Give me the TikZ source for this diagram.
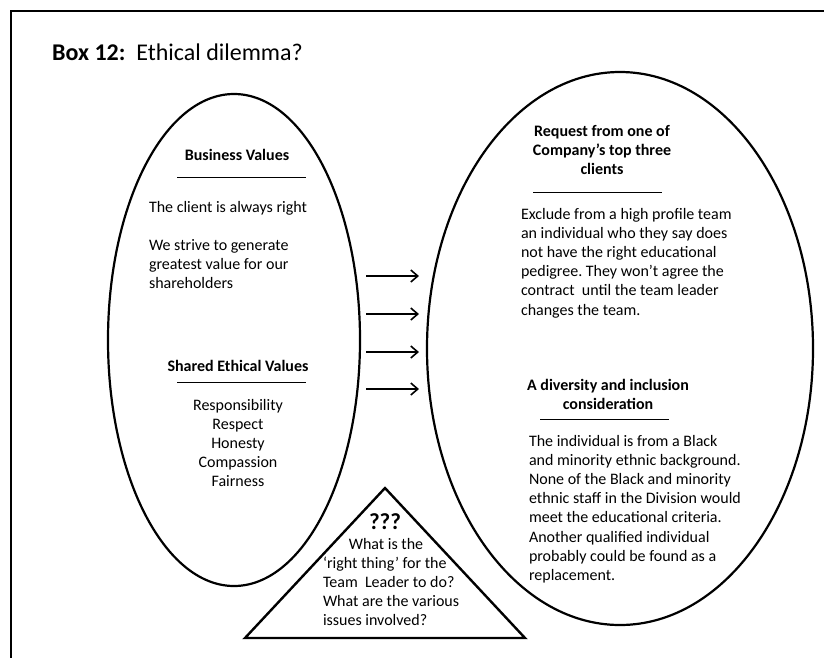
\documentclass[tikz,border=0pt]{standalone}
\usepackage{fontspec}
\setmainfont{Carlito}
\usetikzlibrary{arrows.meta,shapes.geometric}
\newcommand\firststrut{\rule{0pt}{14pt}}
\frenchspacing
\begin{document}
\begin{tikzpicture}[x=1pt,y=-1pt,
  txt/.style={inner sep=0pt, outer sep=0pt, font=\fontsize{16}{19.2}\selectfont},
  hd/.style={inner sep=0pt, outer sep=0pt, font=\bfseries\fontsize{16}{19}\selectfont},
  oval/.style={draw, ellipse, line width=2.2pt, inner sep=0pt},
  rulel/.style={line width=0.9pt},
  arr/.style={line width=1.6pt, -{Straight Barb[length=7pt,width=12pt,line width=1.6pt]}},
  frame/.style={line width=2.8pt}]
\useasboundingbox (0,0) rectangle (824,657);
% frame
\coordinate (fbl) at (11,670);
\coordinate (ftl) at (11,11);
\coordinate (ftr) at (840,11);
\draw[frame] (fbl) -- (ftl) -- (ftr);
% title
\node[anchor=base west, inner sep=0pt, font=\fontsize{24}{28}\selectfont] (title) at (52,60) {\textbf{Box 12:}\ \ Ethical dilemma?};
% ellipses
\node[oval, minimum width=252pt, minimum height=492pt] (lell) at (234,340) {};
\node[oval, minimum width=386pt, minimum height=553pt] (rell) at (620,348.5) {};
% arrows
\foreach \i/\yy in {1/276,2/314,3/352,4/389}{
  \coordinate (as\i) at (366,\yy);
  \coordinate (ae\i) at (419,\yy);
  \draw[arr] (as\i) -- (ae\i);
}
% triangle
\coordinate (tapex) at (385,488);
\coordinate (tbl) at (245,638);
\coordinate (tbr) at (525,638);
\draw[line width=2.4pt, fill=white] (tapex) -- (tbl) -- (tbr) -- cycle;
% left ellipse text
\node[hd, anchor=north, align=center] (bv) at (237,160.5-14) {\firststrut Business Values};
\coordinate (bvl) at (177,177);
\coordinate (bvr) at (306,177);
\draw[rulel] (bvl) -- (bvr);
\node[txt, anchor=north west, align=left] (client) at (149,212-14) {\firststrut The client is always right};
\node[txt, anchor=north west, align=left] (strive) at (149,250-14) {\firststrut We strive to generate\\greatest value for our\\shareholders};
\node[hd, anchor=north, align=center] (sev) at (238,371-14) {\firststrut Shared Ethical Values};
\coordinate (sevl) at (177,382);
\coordinate (sevr) at (306,382);
\draw[rulel] (sevl) -- (sevr);
\node[txt, anchor=north, align=center] (vals) at (238,410-14) {\firststrut Responsibility\\Respect\\Honesty\\Compassion\\Fairness};
% right ellipse text
\node[hd, anchor=north, align=center] (req) at (602,136-14) {\firststrut Request from one of\\Company’s top three\\clients};
\coordinate (reql) at (533,192);
\coordinate (reqr) at (662,192);
\draw[rulel] (reql) -- (reqr);
\node[txt, anchor=north west, align=left] (excl) at (521,219-14) {\firststrut Exclude from a high profile team\\an individual who they say does\\not have the right educational\\pedigree. They won’t agree the\\contract~ until the team leader\\changes the team.};
\node[hd, anchor=north, align=center] (div) at (608,390-14) {\firststrut A diversity and inclusion\\consideration};
\coordinate (divl) at (540,419);
\coordinate (divr) at (669,419);
\draw[rulel] (divl) -- (divr);
\node[txt, anchor=north west, align=left] (indiv) at (529,446-14) {\firststrut The individual is from a Black\\and minority ethnic background.\\None of the Black and minority\\ethnic staff in the Division would\\meet the educational criteria.\\Another qualified individual\\probably could be found as a\\replacement.};
% triangle text
\node[anchor=base, inner sep=0pt, font=\bfseries\fontsize{23}{27}\selectfont] (qqq) at (385,529) {???};
\node[txt, anchor=base] (whatis) at (386,549) {What is the};
\node[txt, anchor=north west, align=left] (rest) at (323,568-14) {\firststrut ‘right thing’ for the\\Team~ Leader to do?\\What are the various\\issues involved?};
\end{tikzpicture}
\end{document}
